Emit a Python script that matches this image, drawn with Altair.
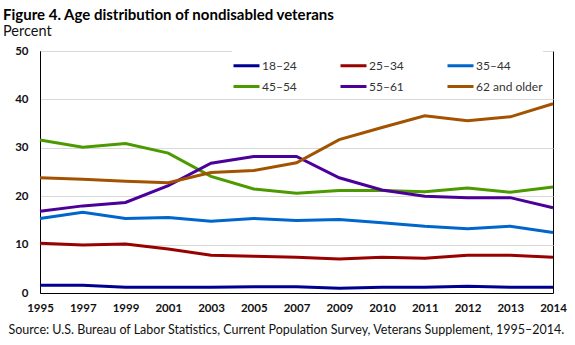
import altair as alt
import pandas as pd

years = ["1995", "1997", "1999", "2001", "2003", "2005", "2007",
         "2009", "2010", "2011", "2012", "2013", "2014"]
groups = ["18–24", "25–34", "35–44", "45–54", "55–61", "62 and older"]
colors = ["#000090", "#990000", "#0066cc", "#4c9a00", "#4b0099", "#a35200"]

v18_24 = [1.6, 1.6, 1.2, 1.2, 1.2, 1.3, 1.3, 1.0, 1.2, 1.2, 1.4, 1.2, 1.2]
v25_34 = [10.3, 9.9, 10.1, 9.1, 7.8, 7.6, 7.4, 7.0, 7.4, 7.2, 7.8, 7.8, 7.4]
v35_44 = [15.4, 16.7, 15.4, 15.6, 14.8, 15.4, 15.0, 15.2, 14.5, 13.8, 13.3, 13.8, 12.5]
v45_54 = [31.6, 30.1, 30.9, 28.9, 24.1, 21.5, 20.6, 21.2, 21.2, 20.9, 21.7, 20.8, 21.9]
v55_61 = [16.9, 18.0, 18.7, 22.2, 26.8, 28.2, 28.2, 23.8, 21.3, 20.0, 19.7, 19.7, 17.6]
v62_up = [23.8, 23.5, 23.1, 22.8, 24.9, 25.3, 26.9, 31.7, 34.2, 36.6, 35.6, 36.4, 39.1]

series = [v18_24, v25_34, v35_44, v45_54, v55_61, v62_up]
rows = []
for g, vals in zip(groups, series):
    for y, v in zip(years, vals):
        rows.append({"year": y, "group": g, "value": v})
df = pd.DataFrame(rows)

FONT = "Lato"
source = "Source: U.S. Bureau of Labor Statistics, Current Population Survey, Veterans Supplement, 1995–2014."

chart = alt.Chart(df).mark_line(strokeWidth=3).encode(
    x=alt.X("year:O", sort=years,
            scale=alt.Scale(type="point", padding=0),
            axis=alt.Axis(title=source, labelAngle=0, ticks=False,
                          domainColor="black", domainWidth=1,
                          labelFont=FONT, labelFontSize=11.5, labelFontWeight="bold",
                          labelColor="#111", labelPadding=9,
                          titleFont=FONT, titleFontSize=12.5, titleFontWeight="normal",
                          titleColor="#111", titleX=-32, titleY=30,
                          titleAlign="left", titleBaseline="top")),
    y=alt.Y("value:Q", scale=alt.Scale(domain=[0, 50]),
            axis=alt.Axis(title=None, values=[0, 10, 20, 30, 40, 50], ticks=False,
                          domainColor="black", domainWidth=1,
                          gridColor="#d9d9d9", gridWidth=1,
                          labelFont=FONT, labelFontSize=11.5, labelFontWeight="bold",
                          labelColor="#111", labelPadding=12)),
    color=alt.Color("group:N", sort=groups,
                    scale=alt.Scale(domain=groups, range=colors),
                    legend=alt.Legend(title=None, orient="none", legendX=192, legendY=0,
                                      direction="horizontal",
                                      columns=3, symbolType="stroke", symbolSize=676,
                                      symbolStrokeWidth=3, labelFont=FONT,
                                      labelFontSize=12, labelColor="#333",
                                      labelOffset=1, columnPadding=37, rowPadding=-5,
                                      fillColor="white"))
).properties(
    width=513, height=242,
    title=alt.TitleParams(text="Figure 4. Age distribution of nondisabled veterans",
                          subtitle="Percent", anchor="start", dx=-5,
                          font=FONT, fontSize=15, fontWeight="bold", color="black",
                          subtitleFont=FONT, subtitleFontSize=14.5, subtitleColor="#111",
                          subtitlePadding=2, offset=7),
    autosize="none",
    padding={"left": 40, "top": 51, "right": 22, "bottom": 52}
).configure_view(stroke="black", strokeWidth=1)

chart.save("out.html", embed_options={"renderer": "svg", "actions": False})
